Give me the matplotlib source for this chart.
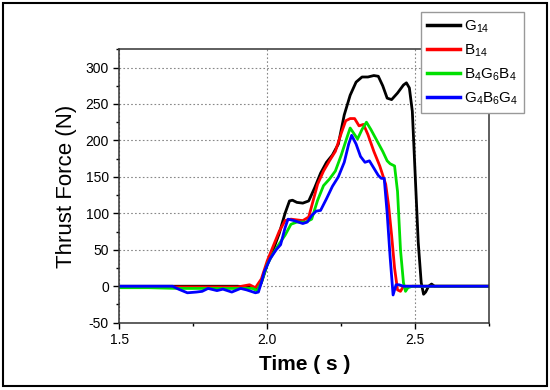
import numpy as np
import matplotlib
matplotlib.use("Agg")
from matplotlib import pyplot as plt
from matplotlib.patches import Rectangle

plt.rcParams['font.family'] = ['Liberation Sans', 'DejaVu Sans']
plt.rcParams['mathtext.default'] = 'regular'
plt.rcParams['axes.unicode_minus'] = False

# G14
t_g14 = [1.5, 1.6, 1.7, 1.8, 1.9, 1.95, 1.97, 1.98, 2.0, 2.02, 2.04, 2.06, 2.075, 2.085,
         2.1, 2.12, 2.14, 2.16, 2.18, 2.2, 2.22, 2.24, 2.26, 2.28, 2.3, 2.32, 2.34, 2.36,
         2.375, 2.39, 2.405, 2.42, 2.44, 2.46, 2.47, 2.48, 2.49, 2.5, 2.51, 2.52, 2.528,
         2.535, 2.545, 2.555, 2.565, 2.6, 2.7, 2.75]
f_g14 = [0, 0, 0, 0, 0, -2, -3, 5, 30, 50, 72, 100, 117, 118,
         115, 114, 117, 135, 155, 170, 180, 195, 235, 262, 280, 287, 287, 289,
         288, 275, 258, 256, 265, 276, 279, 272, 240, 150, 60, 5, -11,
         -8, 0, 3, 0, 0, 0, 0]

# B14
t_b14 = [1.5, 1.6, 1.7, 1.8, 1.9, 1.94, 1.96, 1.98, 2.0, 2.02, 2.04, 2.06, 2.08, 2.1,
         2.12, 2.14, 2.15, 2.17, 2.19, 2.21, 2.23, 2.25, 2.265, 2.28, 2.295, 2.31, 2.325,
         2.34, 2.36, 2.38, 2.4, 2.41, 2.42, 2.43, 2.44, 2.45, 2.46, 2.5, 2.6, 2.7, 2.75]
f_b14 = [-1, -1, -1, -1, -1, 2, -2, 10, 35, 55, 75, 90, 92, 91,
         90, 95, 110, 140, 158, 172, 185, 210, 227, 230, 230, 220, 222,
         208, 185, 165, 140, 110, 70, 25, -5, -7, 0, 0, 0, 0, 0]

# B4G6B4
t_bgb = [1.5, 1.6, 1.7, 1.8, 1.9, 1.95, 1.965, 1.98, 2.0, 2.02, 2.04, 2.06, 2.08, 2.1,
         2.13, 2.15, 2.17, 2.19, 2.21, 2.23, 2.25, 2.27, 2.28, 2.295, 2.305, 2.32, 2.335,
         2.35, 2.37, 2.39, 2.405, 2.415, 2.43, 2.44, 2.45, 2.46, 2.467, 2.475, 2.49,
         2.6, 2.7, 2.75]
f_bgb = [-2, -2, -3, -3, -3, -3, -6, 5, 30, 45, 58, 70, 85, 88,
         88, 92, 118, 138, 147, 158, 180, 205, 217, 208, 202, 215, 225,
         215, 200, 185, 172, 168, 165, 130, 50, 5, -7, -2, 0,
         0, 0, 0]

# G4B6G4
t_gbg = [1.5, 1.6, 1.68, 1.7, 1.73, 1.76, 1.78, 1.8, 1.83, 1.85, 1.88, 1.91, 1.93, 1.96,
         1.97, 1.98, 1.99, 2.01, 2.03, 2.045, 2.06, 2.07, 2.09, 2.12, 2.135, 2.15, 2.165,
         2.18, 2.2, 2.22, 2.24, 2.26, 2.275, 2.285, 2.3, 2.315, 2.33, 2.345, 2.36, 2.375,
         2.385, 2.395, 2.405, 2.415, 2.425, 2.435, 2.445, 2.46, 2.6, 2.7, 2.75]
f_gbg = [0, 0, 0, -4, -9, -8, -7, -3, -6, -4, -8, -3, -5, -9,
         -8, 5, 20, 38, 50, 57, 80, 92, 90, 86, 88, 97, 103,
         104, 120, 137, 150, 170, 195, 207, 195, 178, 170, 172, 162, 152,
         148, 148, 100, 40, -12, 2, 2, 0, 0, 0, 0]

labels = ['G$_{14}$', 'B$_{14}$', 'B$_{4}$G$_{6}$B$_{4}$', 'G$_{4}$B$_{6}$G$_{4}$']
colors = ['#000000', '#ff0000', '#00e000', '#0000ff']

fig = plt.figure(figsize=(5.5, 3.9), dpi=100)
ax = fig.add_axes([0.2169, 0.1726, 0.6727, 0.701])

series = [(t_g14, f_g14), (t_b14, f_b14), (t_bgb, f_bgb), (t_gbg, f_gbg)]
handles = []
for (t, f), c, lab in zip(series, colors, labels):
    h, = ax.plot(t, f, color=c, linewidth=2.0, label=lab)
    handles.append(h)

ax.set_xlim(1.5, 2.75)
ax.set_ylim(-50, 325)
ax.set_xticks([1.5, 2.0, 2.5])
ax.set_xticks([1.75, 2.25, 2.75], minor=True)
ax.set_yticks(np.arange(-50, 301, 50))
ax.set_yticks(np.arange(-25, 326, 50), minor=True)
ax.tick_params(which='major', direction='out', length=4, width=1, labelsize=10)
ax.tick_params(which='minor', direction='out', length=2.5, width=1)
ax.grid(which='major', color='#888888', linestyle=(0, (1.5, 2)), linewidth=0.8)
for s in ax.spines.values():
    s.set_linewidth(1.1)
    s.set_color('#333333')

ax.set_ylabel('Thrust Force (N)', fontsize=16, labelpad=6)
ax.set_xlabel('Time ( s )', fontsize=15, fontweight='bold', labelpad=6)

leg = fig.legend(handles=handles, loc='upper right', bbox_to_anchor=(0.953, 0.968),
                 fontsize=11, frameon=True, fancybox=False, framealpha=1,
                 edgecolor='#999999', handlelength=2.2, handletextpad=0.2,
                 labelspacing=0.5, borderpad=0.4, borderaxespad=0)
leg.get_frame().set_linewidth(1.0)
for ln in leg.get_lines():
    ln.set_linewidth(2.5)

fig.patches.append(Rectangle((0.006, 0.01), 0.988, 0.982, transform=fig.transFigure,
                             fill=False, edgecolor='black', linewidth=1.5))

fig.savefig('out.png', dpi=100)
